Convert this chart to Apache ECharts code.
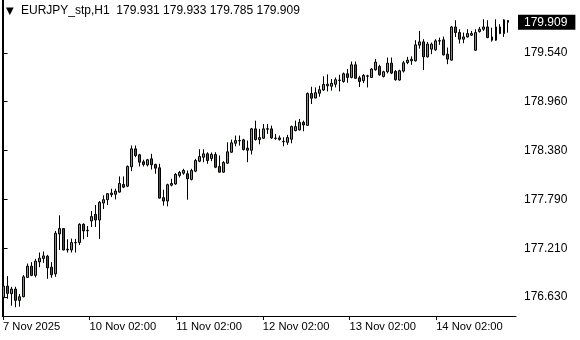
<!DOCTYPE html>
<html><head><meta charset="utf-8">
<script src="https://cdn.jsdelivr.net/npm/echarts@6/dist/echarts.min.js"></script>
<style>html,body{margin:0;padding:0;background:#fff}#c{width:580px;height:340px}</style>
</head><body><div id="c"></div>
<script>
const symbol = 'EURJPY_stp,H1';
const opens = [176.624,176.758,176.667,176.722,176.588,176.631,176.862,176.996,176.886,177.047,177.088,177.115,176.984,176.905,177.381,177.445,177.190,177.190,177.275,177.278,177.496,177.420,177.536,177.615,177.547,177.750,177.790,177.850,177.855,177.881,177.972,177.952,178.183,178.397,178.326,178.243,178.207,178.278,178.211,178.171,177.814,177.774,177.964,177.978,178.080,178.107,178.100,178.032,178.131,178.250,178.297,178.338,178.282,178.330,178.187,178.119,178.226,178.357,178.464,178.494,178.505,178.405,178.381,178.636,178.508,178.524,178.632,178.636,178.522,178.528,178.486,178.476,178.512,178.615,178.624,178.714,178.678,179.059,179.005,179.062,179.100,179.151,179.145,179.169,179.215,179.202,179.294,179.250,179.401,179.246,179.211,179.269,179.250,179.342,179.381,179.262,179.318,179.421,179.321,179.219,179.326,179.428,179.449,179.449,179.636,179.675,179.496,179.588,179.580,179.685,179.699,179.528,179.457,179.853,179.786,179.707,179.734,179.755,179.576,179.798,179.826,179.853,179.734,179.695,179.853,179.774,179.931];
const highs = [176.809,176.877,176.750,176.750,176.663,176.889,177.028,177.044,177.083,177.159,177.171,177.131,177.044,177.417,177.603,177.452,177.318,177.326,177.322,177.508,177.508,177.476,177.655,177.726,177.774,177.842,177.869,177.921,177.921,178.068,178.068,178.199,178.437,178.437,178.338,178.267,178.278,178.338,178.219,178.219,177.909,177.981,178.040,178.107,178.133,178.159,178.139,178.159,178.278,178.393,178.393,178.357,178.353,178.357,178.318,178.250,178.476,178.508,178.556,178.556,178.517,178.496,178.647,178.734,178.636,178.695,178.695,178.675,178.576,178.556,178.536,178.564,178.675,178.734,178.755,178.734,179.071,179.139,179.131,179.151,179.264,179.286,179.231,179.250,179.282,179.309,179.350,179.440,179.440,179.270,179.290,179.282,179.362,179.469,179.401,179.330,179.488,179.488,179.338,179.342,179.449,179.496,179.502,179.695,179.806,179.707,179.675,179.667,179.707,179.726,179.738,179.607,179.865,179.933,179.826,179.786,179.826,179.806,179.826,179.853,179.945,179.933,179.845,179.945,179.886,179.945,179.933];
const lows = [176.493,176.607,176.524,176.505,176.512,176.624,176.857,176.877,176.862,176.984,177.036,176.845,176.857,176.869,177.190,177.185,177.159,177.159,177.159,177.250,177.318,177.345,177.464,177.464,177.321,177.678,177.726,177.821,177.794,177.874,177.928,177.940,178.131,178.297,178.187,178.187,178.187,178.151,178.100,177.805,177.719,177.711,177.949,177.969,178.056,178.088,177.790,178.020,178.119,178.238,178.238,178.219,178.250,178.167,178.112,178.112,178.219,178.350,178.428,178.437,178.377,178.238,178.330,178.496,178.452,178.517,178.576,178.517,178.505,178.496,178.428,178.445,178.464,178.607,178.615,178.607,178.671,178.933,179.000,179.020,179.088,179.083,179.092,179.131,179.083,179.187,179.187,179.240,179.231,179.136,179.183,179.131,179.243,179.330,179.270,179.250,179.298,179.290,179.211,179.211,179.309,179.409,179.401,179.440,179.595,179.338,179.488,179.528,179.568,179.639,179.512,179.409,179.449,179.734,179.655,179.659,179.726,179.746,179.568,179.786,179.806,179.719,179.678,179.687,179.767,179.734,179.785];
const closes = [176.758,176.671,176.722,176.588,176.631,176.869,176.996,176.886,177.056,177.092,177.119,176.976,176.893,177.389,177.445,177.190,177.198,177.278,177.280,177.496,177.417,177.425,177.588,177.547,177.758,177.790,177.862,177.869,177.893,177.984,177.940,178.187,178.397,178.318,178.238,178.211,178.267,178.207,178.167,177.809,177.774,177.969,177.984,178.092,178.115,178.139,178.040,178.139,178.258,178.306,178.338,178.258,178.330,178.178,178.119,178.234,178.362,178.469,178.496,178.498,178.389,178.381,178.636,178.508,178.532,178.636,178.638,178.528,178.526,178.508,178.482,178.532,178.663,178.663,178.714,178.683,179.059,179.002,179.068,179.103,179.167,179.169,179.181,179.223,179.219,179.294,179.250,179.401,179.240,179.202,179.274,179.265,179.350,179.433,179.282,179.318,179.421,179.302,179.223,179.330,179.425,179.457,179.467,179.639,179.675,179.496,179.648,179.648,179.687,179.689,179.520,179.469,179.853,179.786,179.707,179.734,179.774,179.774,179.786,179.826,179.853,179.726,179.695,179.853,179.774,179.937,179.909];
const yTickValues = [176.630, 177.210, 177.790, 178.380, 178.960, 179.540];
const xTickLabels = ['7 Nov 2025', '10 Nov 02:00', '11 Nov 02:00', '12 Nov 02:00', '13 Nov 02:00', '14 Nov 02:00'];
const xTickBars = [-0.14, 21.5, 43.15, 64.8, 86.45, 108.1];

const n = closes.length;
const last = n - 1;
const candles = opens.map((o, i) => [i, o, closes[i], lows[i], highs[i]]);
const titleText = symbol + '  ' + [opens[last], highs[last], lows[last], closes[last]].map(v => v.toFixed(3)).join(' ');

const FONT = 'Liberation Sans';
const chart = echarts.init(document.getElementById('c'), null, {renderer: 'canvas'});
chart.setOption({
  animation: false,
  backgroundColor: '#ffffff',
  title: [
    {text: '▼', left: 6, top: 6, padding: 0, textStyle: {fontFamily: 'DejaVu Sans', fontSize: 10, fontWeight: 'normal', color: '#000'}},
    {text: titleText, left: 21, top: 5, padding: 0, textStyle: {fontFamily: FONT, fontSize: 12, fontWeight: 'normal', color: '#000'}}
  ],
  grid: {left: 2, right: 64, top: -1, bottom: 24, show: false, containLabel: false},
  xAxis: {
    type: 'value', min: -0.31, max: 128.06,
    splitLine: {show: false},
    axisLine: {show: true, onZero: false, lineStyle: {color: '#000', width: 1}},
    axisTick: {show: true, length: 4, inside: false, customValues: xTickBars, lineStyle: {color: '#000'}},
    axisLabel: {
      show: true, customValues: xTickBars, align: 'left', margin: 5,
      fontFamily: FONT, fontSize: 11.2, color: '#000',
      formatter: (v) => { const k = xTickBars.indexOf(v); return k >= 0 ? xTickLabels[k] : ''; }
    }
  },
  yAxis: [
    {
      type: 'value', position: 'right', min: 176.401, max: 180.175, scale: true,
      splitLine: {show: false},
      axisLine: {show: true, lineStyle: {color: '#000', width: 1}},
      axisTick: {show: true, length: 4, customValues: yTickValues, lineStyle: {color: '#000'}},
      axisLabel: {show: true, customValues: yTickValues, margin: 8, fontFamily: FONT, fontSize: 12, color: '#000',
        formatter: v => v.toFixed(3)}
    },
    {
      type: 'value', position: 'left', min: 176.401, max: 180.175, scale: true,
      splitLine: {show: false},
      axisLine: {show: true, lineStyle: {color: '#000', width: 1}},
      axisTick: {show: false}, axisLabel: {show: false}
    },
    {
      type: 'value', position: 'right', min: 176.401, max: 180.175, scale: true,
      splitLine: {show: false}, axisLine: {show: false}, axisTick: {show: false},
      axisLabel: {show: true, customValues: [closes[last]], margin: 2, fontFamily: FONT, fontSize: 12,
        color: '#fff', backgroundColor: '#000', padding: [2, 8, 1, 6], formatter: v => v.toFixed(3)}
    }
  ],
  series: [{
    type: 'candlestick',
    data: candles,
    encode: {x: 0, y: [1, 2, 3, 4]},
    barWidth: 2,
    itemStyle: {color: '#22cc22', color0: '#dd1111', borderColor: '#000', borderColor0: '#000', borderWidth: 1}
  }]
});
</script></body></html>
